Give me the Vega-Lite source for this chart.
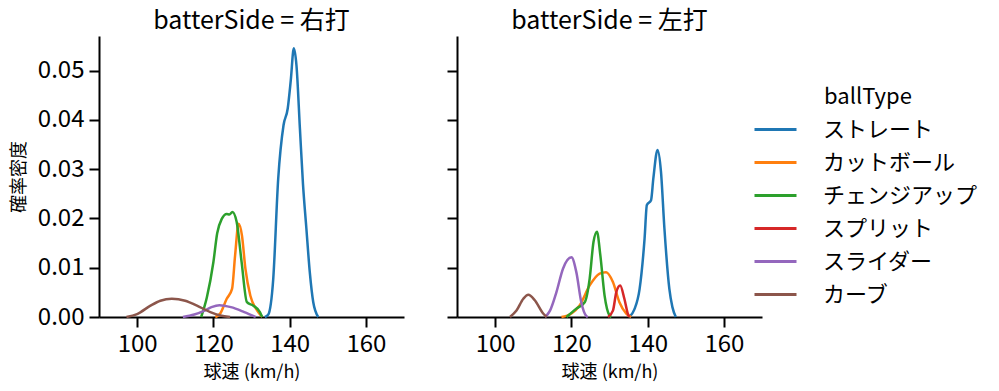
{
  "$schema": "https://vega.github.io/schema/vega-lite/v6.json",
  "padding": {"left": 10, "top": 9, "right": 5, "bottom": 3},
  "data": {"values": [
    {"s":"右打","t":"ストレート","x":133.5,"y":0},
    {"s":"右打","t":"ストレート","x":134.4,"y":0.0005},
    {"s":"右打","t":"ストレート","x":135.7,"y":0.0077},
    {"s":"右打","t":"ストレート","x":137.0,"y":0.028},
    {"s":"右打","t":"ストレート","x":138.4,"y":0.0389},
    {"s":"右打","t":"ストレート","x":139.5,"y":0.0423},
    {"s":"右打","t":"ストレート","x":140.3,"y":0.048},
    {"s":"右打","t":"ストレート","x":141.1,"y":0.0545},
    {"s":"右打","t":"ストレート","x":141.8,"y":0.051},
    {"s":"右打","t":"ストレート","x":142.7,"y":0.0382},
    {"s":"右打","t":"ストレート","x":143.5,"y":0.027},
    {"s":"右打","t":"ストレート","x":144.4,"y":0.0179},
    {"s":"右打","t":"ストレート","x":145.3,"y":0.009},
    {"s":"右打","t":"ストレート","x":146.2,"y":0.003},
    {"s":"右打","t":"ストレート","x":147.5,"y":0},
    {"s":"右打","t":"カットボール","x":120.5,"y":0},
    {"s":"右打","t":"カットボール","x":121.8,"y":0.0007},
    {"s":"右打","t":"カットボール","x":123.5,"y":0.0037},
    {"s":"右打","t":"カットボール","x":124.9,"y":0.0057},
    {"s":"右打","t":"カットボール","x":125.7,"y":0.0125},
    {"s":"右打","t":"カットボール","x":126.6,"y":0.0189},
    {"s":"右打","t":"カットボール","x":127.5,"y":0.0165},
    {"s":"右打","t":"カットボール","x":128.4,"y":0.0098},
    {"s":"右打","t":"カットボール","x":129.7,"y":0.0043},
    {"s":"右打","t":"カットボール","x":131.5,"y":0.0013},
    {"s":"右打","t":"カットボール","x":132.8,"y":0},
    {"s":"右打","t":"チェンジアップ","x":116.8,"y":0},
    {"s":"右打","t":"チェンジアップ","x":118.3,"y":0.004},
    {"s":"右打","t":"チェンジアップ","x":120.0,"y":0.0111},
    {"s":"右打","t":"チェンジアップ","x":121.0,"y":0.017},
    {"s":"右打","t":"チェンジアップ","x":122.2,"y":0.0199},
    {"s":"右打","t":"チェンジアップ","x":123.5,"y":0.0209},
    {"s":"右打","t":"チェンジアップ","x":124.2,"y":0.0208},
    {"s":"右打","t":"チェンジアップ","x":125.0,"y":0.0213},
    {"s":"右打","t":"チェンジアップ","x":126.1,"y":0.0193},
    {"s":"右打","t":"チェンジアップ","x":127.4,"y":0.0112},
    {"s":"右打","t":"チェンジアップ","x":128.8,"y":0.003},
    {"s":"右打","t":"チェンジアップ","x":130.5,"y":0.0023},
    {"s":"右打","t":"チェンジアップ","x":132.2,"y":0.001},
    {"s":"右打","t":"チェンジアップ","x":132.8,"y":0},
    {"s":"右打","t":"スライダー","x":112.0,"y":0},
    {"s":"右打","t":"スライダー","x":115.0,"y":0.0005},
    {"s":"右打","t":"スライダー","x":117.7,"y":0.0013},
    {"s":"右打","t":"スライダー","x":119.5,"y":0.002},
    {"s":"右打","t":"スライダー","x":121.6,"y":0.0024},
    {"s":"右打","t":"スライダー","x":124.6,"y":0.002},
    {"s":"右打","t":"スライダー","x":128.1,"y":0.001},
    {"s":"右打","t":"スライダー","x":131.1,"y":0},
    {"s":"右打","t":"カーブ","x":97.2,"y":0},
    {"s":"右打","t":"カーブ","x":100.0,"y":0.0006},
    {"s":"右打","t":"カーブ","x":103.5,"y":0.0023},
    {"s":"右打","t":"カーブ","x":106.1,"y":0.0033},
    {"s":"右打","t":"カーブ","x":109.1,"y":0.0037},
    {"s":"右打","t":"カーブ","x":112.6,"y":0.0033},
    {"s":"右打","t":"カーブ","x":115.7,"y":0.0023},
    {"s":"右打","t":"カーブ","x":119.2,"y":0.001},
    {"s":"右打","t":"カーブ","x":121.8,"y":0.0003},
    {"s":"右打","t":"カーブ","x":124.4,"y":0},
    {"s":"左打","t":"ストレート","x":135.2,"y":0},
    {"s":"左打","t":"ストレート","x":136.5,"y":0.0015},
    {"s":"左打","t":"ストレート","x":137.9,"y":0.0057},
    {"s":"左打","t":"ストレート","x":139.2,"y":0.0159},
    {"s":"左打","t":"ストレート","x":139.8,"y":0.0227},
    {"s":"左打","t":"ストレート","x":140.9,"y":0.0237},
    {"s":"左打","t":"ストレート","x":141.5,"y":0.0281},
    {"s":"左打","t":"ストレート","x":142.6,"y":0.0339},
    {"s":"左打","t":"ストレート","x":143.5,"y":0.0295},
    {"s":"左打","t":"ストレート","x":144.4,"y":0.018},
    {"s":"左打","t":"ストレート","x":145.7,"y":0.0057},
    {"s":"左打","t":"ストレート","x":146.5,"y":0.002},
    {"s":"左打","t":"ストレート","x":147.4,"y":0},
    {"s":"左打","t":"カットボール","x":117.4,"y":0},
    {"s":"左打","t":"カットボール","x":120.0,"y":0.0007},
    {"s":"左打","t":"カットボール","x":122.2,"y":0.0024},
    {"s":"左打","t":"カットボール","x":124.8,"y":0.0064},
    {"s":"左打","t":"カットボール","x":127.4,"y":0.0088},
    {"s":"左打","t":"カットボール","x":129.1,"y":0.0091},
    {"s":"左打","t":"カットボール","x":130.9,"y":0.0071},
    {"s":"左打","t":"カットボール","x":132.6,"y":0.003},
    {"s":"左打","t":"カットボール","x":134.4,"y":0.0007},
    {"s":"左打","t":"カットボール","x":135.7,"y":0},
    {"s":"左打","t":"チェンジアップ","x":118.7,"y":0},
    {"s":"左打","t":"チェンジアップ","x":121.3,"y":0.0017},
    {"s":"左打","t":"チェンジアップ","x":123.5,"y":0.003},
    {"s":"左打","t":"チェンジアップ","x":124.8,"y":0.0078},
    {"s":"左打","t":"チェンジアップ","x":125.8,"y":0.0152},
    {"s":"左打","t":"チェンジアップ","x":126.7,"y":0.0173},
    {"s":"左打","t":"チェンジアップ","x":127.6,"y":0.0125},
    {"s":"左打","t":"チェンジアップ","x":128.7,"y":0.0044},
    {"s":"左打","t":"チェンジアップ","x":130.0,"y":0.0003},
    {"s":"左打","t":"チェンジアップ","x":130.5,"y":0},
    {"s":"左打","t":"スプリット","x":129.6,"y":0},
    {"s":"左打","t":"スプリット","x":130.9,"y":0.0013},
    {"s":"左打","t":"スプリット","x":131.8,"y":0.0051},
    {"s":"左打","t":"スプリット","x":132.8,"y":0.0064},
    {"s":"左打","t":"スプリット","x":133.9,"y":0.0037},
    {"s":"左打","t":"スプリット","x":134.8,"y":0.0007},
    {"s":"左打","t":"スプリット","x":135.2,"y":0},
    {"s":"左打","t":"スライダー","x":113.1,"y":0},
    {"s":"左打","t":"スライダー","x":114.4,"y":0.0013},
    {"s":"左打","t":"スライダー","x":116.1,"y":0.0051},
    {"s":"左打","t":"スライダー","x":117.8,"y":0.0098},
    {"s":"左打","t":"スライダー","x":120.0,"y":0.0121},
    {"s":"左打","t":"スライダー","x":121.3,"y":0.0091},
    {"s":"左打","t":"スライダー","x":122.6,"y":0.003},
    {"s":"左打","t":"スライダー","x":123.9,"y":0.0002},
    {"s":"左打","t":"スライダー","x":124.3,"y":0},
    {"s":"左打","t":"カーブ","x":103.9,"y":0},
    {"s":"左打","t":"カーブ","x":105.6,"y":0.0013},
    {"s":"左打","t":"カーブ","x":107.4,"y":0.0037},
    {"s":"左打","t":"カーブ","x":108.7,"y":0.0045},
    {"s":"左打","t":"カーブ","x":110.4,"y":0.0034},
    {"s":"左打","t":"カーブ","x":112.6,"y":0.0007},
    {"s":"左打","t":"カーブ","x":113.5,"y":0}
  ]},
  "spacing": 42,
  "hconcat": [
    {
      "width": 305, "height": 281,
      "title": {"text": "batterSide = 右打"},
      "transform": [{"filter": {"field": "s", "equal": "右打"}}],
      "mark": {"type": "line", "interpolate": "monotone", "strokeWidth": 2.5},
      "encoding": {
        "x": {"field": "x", "type": "quantitative", "scale": {"domain": [90, 170], "nice": false, "zero": false},
              "axis": {"values": [100, 120, 140, 160], "title": "球速 (km/h)"}},
        "y": {"field": "y", "type": "quantitative", "scale": {"domain": [0, 0.057], "nice": false},
              "axis": {"values": [0, 0.01, 0.02, 0.03, 0.04, 0.05], "format": ".2f", "title": "確率密度"}},
        "color": {"field": "t", "type": "nominal", "title": "ballType",
          "scale": {"domain": ["ストレート", "カットボール", "チェンジアップ", "スプリット", "スライダー", "カーブ"],
                    "range": ["#1f77b4", "#ff7f0e", "#2ca02c", "#d62728", "#9467bd", "#8c564b"]},
          "legend": {"orient": "none", "legendX": 660, "legendY": 51}}
      }
    },
    {
      "width": 305, "height": 281,
      "title": {"text": "batterSide = 左打"},
      "transform": [{"filter": {"field": "s", "equal": "左打"}}],
      "mark": {"type": "line", "interpolate": "monotone", "strokeWidth": 2.5},
      "encoding": {
        "x": {"field": "x", "type": "quantitative", "scale": {"domain": [90, 170], "nice": false, "zero": false},
              "axis": {"values": [100, 120, 140, 160], "title": "球速 (km/h)"}},
        "y": {"field": "y", "type": "quantitative", "scale": {"domain": [0, 0.057], "nice": false},
              "axis": {"values": [0, 0.01, 0.02, 0.03, 0.04, 0.05], "labels": false, "title": null}},
        "color": {"field": "t", "type": "nominal", "title": "ballType",
          "scale": {"domain": ["ストレート", "カットボール", "チェンジアップ", "スプリット", "スライダー", "カーブ"],
                    "range": ["#1f77b4", "#ff7f0e", "#2ca02c", "#d62728", "#9467bd", "#8c564b"]},
          "legend": {"orient": "none", "legendX": 660, "legendY": 51}}
      }
    }
  ],
  "config": {
    "font": "Noto Sans CJK JP",
    "view": {"stroke": null},
    "axis": {
      "grid": false,
      "domainColor": "#000000", "domainWidth": 2,
      "tickColor": "#000000", "tickWidth": 2, "tickSize": 10,
      "labelFontSize": 24, "labelColor": "#000000", "labelPadding": 5,
      "titleFontSize": 18, "titleFontWeight": "normal", "titleColor": "#000000",
      "labelFont": "Noto Sans CJK JP", "titleFont": "Noto Sans CJK JP"
    },
    "axisY": {"titlePadding": 9},
    "axisX": {"titlePadding": 7},
    "title": {"fontSize": 25, "fontWeight": "normal", "color": "#000000", "offset": 2, "font": "Noto Sans CJK JP"},
    "legend": {
      "titleFontSize": 22, "titleFontWeight": "normal", "titleColor": "#000000",
      "labelFontSize": 22, "labelColor": "#000000",
      "symbolType": "M-1.4,0H1.4", "symbolSize": 900, "symbolStrokeWidth": 3, "symbolFillColor": "transparent",
      "rowPadding": 5, "labelOffset": 31, "titlePadding": 4, "titleAnchor": "middle",
      "titleFont": "Noto Sans CJK JP", "labelFont": "Noto Sans CJK JP"
    }
  }
}
